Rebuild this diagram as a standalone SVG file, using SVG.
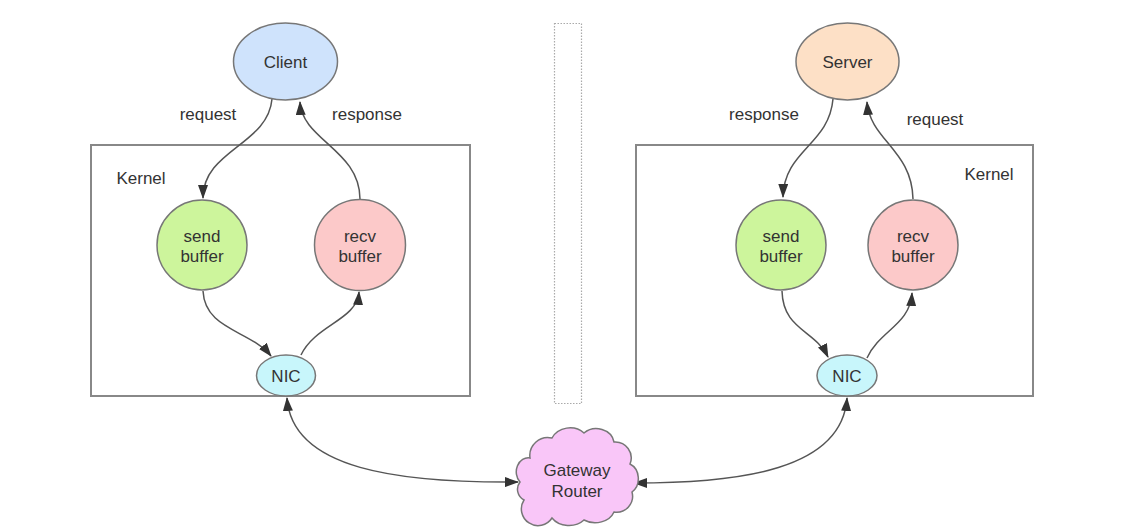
<svg xmlns="http://www.w3.org/2000/svg" width="1126" height="531" viewBox="0 0 1126 531">
  <defs>
    <marker id="arrow" viewBox="0 0 14 10" refX="13" refY="5" markerWidth="14" markerHeight="10" markerUnits="userSpaceOnUse" orient="auto-start-reverse">
      <path d="M0,0 L14,5 L0,10 z" fill="#333"/>
    </marker>
    <style>
      text { font-family: "Liberation Sans", Arial, sans-serif; font-size: 17px; fill: #333; text-anchor: middle; }
      .kernel { fill: none; stroke: #888; stroke-width: 2; }
      .node { stroke: #777; stroke-width: 1.5; }
      .link { fill: none; stroke: #555; stroke-width: 1.5; }
      .one { marker-end: url(#arrow); }
      .both { marker-start: url(#arrow); marker-end: url(#arrow); }
    </style>
  </defs>
  <rect width="1126" height="531" fill="#fff"/>

  <!-- kernel boxes -->
  <g id="kernel-left">
    <rect class="kernel" x="91" y="145" width="379" height="251"/>
    <text x="141" y="184">Kernel</text>
  </g>
  <g id="kernel-right">
    <rect class="kernel" x="636" y="145" width="397" height="251"/>
    <text x="989" y="180">Kernel</text>
  </g>

  <!-- separator -->
  <g id="separator">
    <rect x="554.5" y="23.5" width="27" height="380" fill="none" stroke="#aaa" stroke-width="1.2" stroke-dasharray="1.5 1.5"/>
  </g>

  <!-- connectors -->
  <g id="connectors">
    <path class="link one" d="M272,99 C268,145 203,150 203,198"/>
    <path class="link one" d="M360,199 C360,150 302,140 300,102"/>
    <path class="link one" d="M203,291 C205,330 250,330 271,356"/>
    <path class="link one" d="M301,355 C315,325 357,320 359,292"/>

    <path class="link one" d="M833,99 C829,145 784,150 783,197"/>
    <path class="link one" d="M913,199 C912,150 870,140 867,102"/>
    <path class="link one" d="M782,291 C783,330 815,330 828,357"/>
    <path class="link one" d="M867,358 C880,330 910,325 912,293"/>

    <path class="link both" d="M287,398 C292,470 400,483 518,482"/>
    <path class="link both" d="M847,398 C842,470 740,483 634,483"/>
  </g>

  <!-- client side -->
  <g id="client">
    <ellipse class="node" cx="285.5" cy="61.5" rx="52" ry="38.5" fill="#cfe3fc"/>
    <text x="285.5" y="68">Client</text>
  </g>
  <text x="208" y="120">request</text>
  <text x="367" y="120">response</text>
  <g id="send-left">
    <circle class="node" cx="202" cy="245" r="45" fill="#cdf59c"/>
    <text x="202" y="242">send</text>
    <text x="202" y="262">buffer</text>
  </g>
  <g id="recv-left">
    <circle class="node" cx="360" cy="245" r="45.5" fill="#fcc9c9"/>
    <text x="360" y="242">recv</text>
    <text x="360" y="262">buffer</text>
  </g>
  <g id="nic-left">
    <ellipse class="node" cx="286" cy="375.5" rx="29.5" ry="20.5" fill="#c8f6fb"/>
    <text x="286" y="382">NIC</text>
  </g>

  <!-- server side -->
  <g id="server">
    <ellipse class="node" cx="847.5" cy="61.5" rx="51.5" ry="38.5" fill="#fde0c6"/>
    <text x="847.5" y="68">Server</text>
  </g>
  <text x="764" y="120">response</text>
  <text x="935" y="125">request</text>
  <g id="send-right">
    <circle class="node" cx="781" cy="245" r="45" fill="#cdf59c"/>
    <text x="781" y="242">send</text>
    <text x="781" y="262">buffer</text>
  </g>
  <g id="recv-right">
    <circle class="node" cx="913" cy="245" r="45" fill="#fcc9c9"/>
    <text x="913" y="242">recv</text>
    <text x="913" y="262">buffer</text>
  </g>
  <g id="nic-right">
    <ellipse class="node" cx="847" cy="375.5" rx="30" ry="20.5" fill="#c8f6fb"/>
    <text x="847" y="382">NIC</text>
  </g>

  <!-- gateway -->
  <g id="gateway">
    <path class="node" fill="#f9c6f8" stroke="#8a6f8a" d="M530,458 a18,18 0 0 1 22,-20 a20,18 0 0 1 32,-5 a18,16 0 0 1 30,9 a16,16 0 0 1 16,22 a14,16 0 0 1 2,28 a16,16 0 0 1 -18,20 a20,16 0 0 1 -30,8 a20,16 0 0 1 -32,-2 a16,16 0 0 1 -28,-18 a12,12 0 0 1 -4,-18 a12,14 0 0 1 10,-24 z"/>
    <text x="577" y="476">Gateway</text>
    <text x="577" y="497">Router</text>
  </g>
</svg>
